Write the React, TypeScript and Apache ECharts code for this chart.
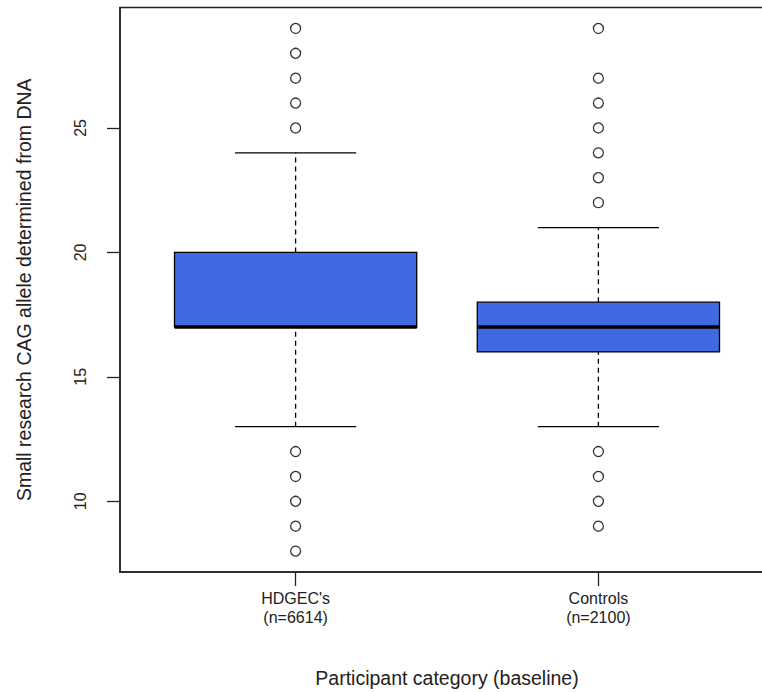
import React, { useEffect, useRef } from "react";
import * as echarts from "echarts";

const categories = ["HDGEC's\n(n=6614)", "Controls\n(n=2100)"];
const positions = [1, 2];
const lowerWhisker = [13, 13];
const q1 = [17, 16];
const median = [17, 17];
const q3 = [20, 18];
const upperWhisker = [24, 21];
const outliersHDGEC = [8, 9, 10, 11, 12, 25, 26, 27, 28, 29];
const outliersControls = [9, 10, 11, 12, 22, 23, 24, 25, 26, 27, 29];
const yTicks = [10, 15, 20, 25];

const FONT = "'Liberation Sans', Arial, sans-serif";

export default function App() {
  const ref = useRef<HTMLDivElement>(null);
  useEffect(() => {
    if (!ref.current) return;
    const chart = echarts.init(ref.current, null, { renderer: "svg" });
    const boxData = positions.map((p, i) => [p, lowerWhisker[i], q1[i], median[i], q3[i], upperWhisker[i]]);
    const outlierData: number[][] = [];
    outliersHDGEC.forEach((v) => outlierData.push([positions[0], v]));
    outliersControls.forEach((v) => outlierData.push([positions[1], v]));

    const renderItem = (params: any, api: any) => {
      const x = api.value(0);
      const lo = api.value(1);
      const a = api.value(2);
      const m = api.value(3);
      const b = api.value(4);
      const hi = api.value(5);
      const half = api.size([0.4, 0])[0];
      const capHalf = api.size([0.2, 0])[0];
      const pLo = api.coord([x, lo]);
      const pA = api.coord([x, a]);
      const pM = api.coord([x, m]);
      const pB = api.coord([x, b]);
      const pHi = api.coord([x, hi]);
      const cx = pLo[0];
      const dash = { stroke: "#000", lineWidth: 1.3, lineDash: [5, 4] };
      const solid = { stroke: "#000", lineWidth: 1.3 };
      return {
        type: "group",
        children: [
          { type: "line", shape: { x1: cx, y1: pLo[1], x2: cx, y2: pA[1] }, style: dash },
          { type: "line", shape: { x1: cx, y1: pB[1], x2: cx, y2: pHi[1] }, style: dash },
          { type: "line", shape: { x1: cx - capHalf, y1: pLo[1], x2: cx + capHalf, y2: pLo[1] }, style: solid },
          { type: "line", shape: { x1: cx - capHalf, y1: pHi[1], x2: cx + capHalf, y2: pHi[1] }, style: solid },
          {
            type: "rect",
            shape: { x: cx - half, y: pB[1], width: 2 * half, height: pA[1] - pB[1] },
            style: { fill: "#4169E1", stroke: "#000", lineWidth: 1.3 },
          },
          { type: "line", shape: { x1: cx - half, y1: pM[1], x2: cx + half, y2: pM[1] }, style: { stroke: "#000", lineWidth: 3.5 } },
        ],
      };
    };

    chart.setOption({
      animation: false,
      grid: {
        left: 120,
        top: 7.5,
        width: 654,
        height: 564.5,
        show: true,
        borderColor: "#222",
        borderWidth: 1.5,
        backgroundColor: "transparent",
        outerBoundsMode: "none",
        containLabel: false,
      },
      xAxis: {
        type: "value",
        min: 0.42,
        max: 2.58,
        name: "Participant category (baseline)",
        nameLocation: "middle",
        nameGap: 96,
        nameTextStyle: { fontFamily: FONT, fontSize: 19.5, color: "#222" },
        axisLine: { show: true, onZero: false, lineStyle: { color: "#222", width: 1.5 } },
        axisTick: { show: true, length: 14, customValues: positions, lineStyle: { color: "#222", width: 1.3 } },
        axisLabel: {
          customValues: positions,
          formatter: (v: number) => categories[Math.round(v) - 1] ?? "",
          fontFamily: FONT,
          fontSize: 16,
          lineHeight: 19,
          margin: 17,
          color: "#222",
        },
        splitLine: { show: false },
      },
      yAxis: {
        type: "value",
        min: 7.16,
        max: 29.84,
        name: "Small research CAG allele determined from DNA",
        nameLocation: "middle",
        nameGap: 86,
        nameRotate: 90,
        nameTextStyle: { fontFamily: FONT, fontSize: 19.5, color: "#222" },
        axisLine: { show: true, onZero: false, lineStyle: { color: "#222", width: 1.5 } },
        axisTick: { show: true, length: 13, customValues: yTicks, lineStyle: { color: "#222", width: 1.3 } },
        axisLabel: {
          customValues: yTicks,
          rotate: 90,
          fontFamily: FONT,
          fontSize: 16,
          margin: 32,
          color: "#222",
        },
        splitLine: { show: false },
      },
      series: [
        {
          type: "custom",
          renderItem,
          data: boxData,
          encode: { x: 0, y: [1, 2, 3, 4, 5] },
          clip: false,
          z: 2,
        },
        {
          type: "scatter",
          data: outlierData,
          symbol: "circle",
          symbolSize: 10,
          itemStyle: { color: "#fff", borderColor: "#000", borderWidth: 1.3 },
          z: 3,
        },
      ],
    });
    return () => chart.dispose();
  }, []);
  return <div ref={ref} style={{ position: "absolute", left: 0, top: 0, width: 762, height: 692 }} />;
}
